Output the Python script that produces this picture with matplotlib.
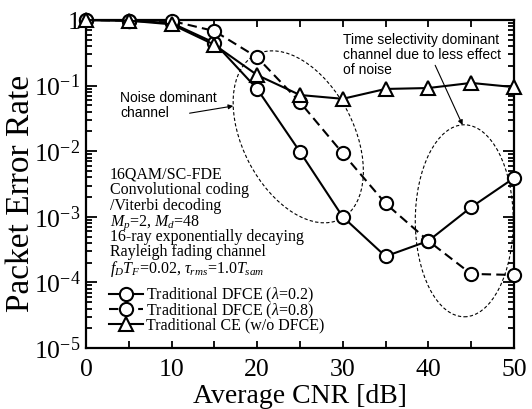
import numpy as np
import matplotlib
matplotlib.use("Agg")
import matplotlib.pyplot as plt
from matplotlib.patches import Ellipse
from matplotlib.ticker import MultipleLocator, LogLocator, NullFormatter
from matplotlib.transforms import ScaledTranslation

plt.rcParams["font.family"] = ["Liberation Serif", "DejaVu Serif"]
plt.rcParams["mathtext.fontset"] = "custom"
plt.rcParams["mathtext.rm"] = "Liberation Serif"
plt.rcParams["mathtext.it"] = "Liberation Serif:italic"
plt.rcParams["mathtext.bf"] = "Liberation Serif:bold"

# average CNR [dB]
cnr = [0, 5, 10, 15, 20, 25, 30, 35, 40, 45, 50]

# packet error rate
per_dfce_02 = [1.0, 0.98, 0.90, 0.45, 0.089, 0.0098, 1.0e-3, 2.5e-4, 4.3e-4, 1.4e-3, 3.9e-3]
per_dfce_08 = [1.0, 0.98, 0.97, 0.68, 0.27, 0.056, 9.3e-3, 1.6e-3, 4.3e-4, 1.35e-4, 1.3e-4]
per_ce = [1.0, 0.98, 0.86, 0.42, 0.145, 0.072, 0.063, 0.089, 0.092, 0.11, 0.095]

labels = [r"Traditional DFCE ($\lambda$=0.2)",
          r"Traditional DFCE ($\lambda$=0.8)",
          "Traditional CE (w/o DFCE)"]

conditions = ["16QAM/SC-FDE",
              "Convolutional coding",
              "/Viterbi decoding",
              r"$M_p$=2, $M_d$=48",
              "16-ray exponentially decaying",
              "Rayleigh fading channel",
              r"$f_DT_F$=0.02, $\tau_{rms}$=1.0$T_{sam}$"]

yticks = [1e-5, 1e-4, 1e-3, 1e-2, 1e-1, 1]
ytick_labels = [r"10$^{-5}$", r"10$^{-4}$", r"10$^{-3}$", r"10$^{-2}$", r"10$^{-1}$", "1"]

fig = plt.figure(figsize=(5.32, 4.09), dpi=100)
ax = fig.add_axes([0.1617, 0.149, 0.8043, 0.802])

mk = dict(markersize=9.5, markerfacecolor="white", markeredgecolor="black",
          markeredgewidth=1.5, color="black", linewidth=1.5, clip_on=False, zorder=5)
ax.plot(cnr, per_dfce_02, "-o", label=labels[0], **mk)
ax.plot(cnr, per_dfce_08, "--o", dashes=(4.5, 2.5), label=labels[1], **mk)
ax.plot(cnr, per_ce, "-^", label=labels[2], **mk)

ax.set_yscale("log")
ax.set_xlim(0, 50)
ax.set_ylim(1e-5, 1)

# ellipses sized in inches, centred on data points
def ellipse(cx, cy, w, h, ang):
    tr = fig.dpi_scale_trans + ScaledTranslation(cx, cy, ax.transData)
    e = Ellipse((0, 0), w, h, angle=ang, transform=tr, fill=False,
                edgecolor="black", linewidth=0.8, linestyle=(0, (3, 2)), zorder=3)
    ax.add_patch(e)

ellipse(24.8, 10 ** -1.78, 1.85, 1.11, 117.4)
ellipse(44.2, 10 ** -3.06, 0.98, 1.92, 0)

sans = ["Liberation Sans", "DejaVu Sans"]
ax.text(4.0, 10 ** -1.30, "Noise dominant\nchannel", family=sans, fontsize=10,
        va="center", ha="left", linespacing=1.1)
ax.annotate("", xy=(17.2, 10 ** -1.31), xytext=(12.1, 10 ** -1.42),
            arrowprops=dict(arrowstyle="-|>", color="black", lw=0.8,
                            mutation_scale=7, shrinkA=0, shrinkB=0))
ax.text(30.0, 10 ** -0.53, "Time selectivity dominant\nchannel due to less effect\nof noise",
        family=sans, fontsize=10, va="center", ha="left", linespacing=1.1)
ax.annotate("", xy=(44.0, 10 ** -1.60), xytext=(40.8, 10 ** -0.69),
            arrowprops=dict(arrowstyle="-|>", color="black", lw=0.8,
                            mutation_scale=7, shrinkA=0, shrinkB=0))

for i, line in enumerate(conditions):
    ax.text(0.056, 0.534 - i * 0.0473, line, transform=ax.transAxes,
            fontsize=11.5, va="center_baseline", ha="left")

leg = ax.legend(loc="upper left", bbox_to_anchor=(0.054, 0.19), frameon=False,
                fontsize=11.5, handlelength=2.1, handletextpad=0.2,
                labelspacing=-0.22, borderaxespad=0, borderpad=0)

ax.xaxis.set_major_locator(MultipleLocator(10))
ax.xaxis.set_minor_locator(MultipleLocator(5))
ax.yaxis.set_minor_locator(LogLocator(base=10, subs=np.arange(2, 10), numticks=10))
ax.yaxis.set_minor_formatter(NullFormatter())
ax.set_yticks(yticks)
ax.set_yticklabels(ytick_labels)

ax.tick_params(which="both", direction="in", top=True, right=True, width=1.3,
               labelsize=18.5, pad=4)
ax.tick_params(axis="x", which="both", length=5, pad=8)
ax.tick_params(axis="y", which="major", length=8)
ax.tick_params(axis="y", which="minor", length=4.5)
for s in ax.spines.values():
    s.set_linewidth(1.6)

ax.set_xlabel("Average CNR [dB]", fontsize=20)
ax.set_ylabel("Packet Error Rate", fontsize=24)
ax.xaxis.set_label_coords(0.5, -0.11)
ax.yaxis.set_label_coords(-0.118, 0.47)

fig.savefig("out.png", dpi=100)
